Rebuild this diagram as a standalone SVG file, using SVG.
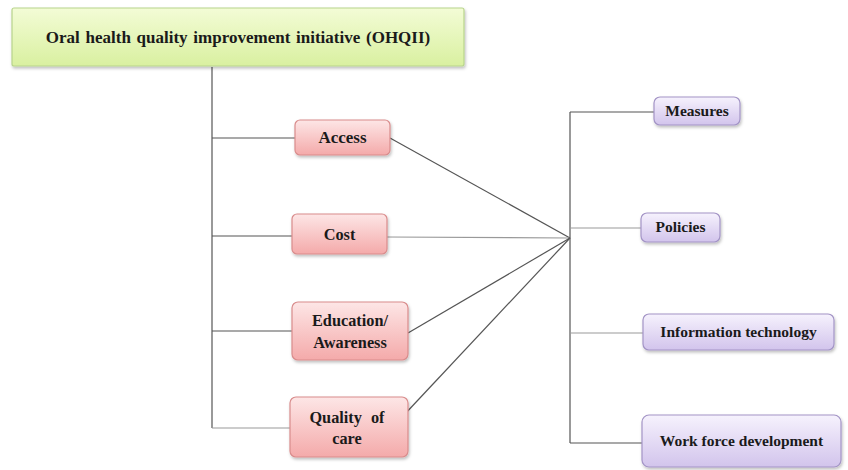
<svg xmlns="http://www.w3.org/2000/svg" width="848" height="470" viewBox="0 0 848 470">
<style>
text{font-family:"Liberation Serif","Times New Roman",serif;font-weight:bold;font-size:15.5px;fill:#1a1a1a;text-anchor:middle}
.c{stroke:#555;stroke-width:1.2;fill:none}
.cl{stroke:#999;stroke-width:1.2;fill:none}
.g{fill:url(#gg);stroke:#b8d48c;stroke-width:1.2}
.p{fill:url(#pg);stroke:#d98c8c;stroke-width:1.2}
.v{fill:url(#vg);stroke:#a394c6;stroke-width:1.2}
.big{font-size:17px}
.mid{font-size:16.3px}
</style>
<defs>
<linearGradient id="gg" x1="0" y1="0" x2="0" y2="1"><stop offset="0" stop-color="#f3fcd6"/><stop offset="1" stop-color="#d9f0a0"/></linearGradient>
<linearGradient id="pg" x1="0" y1="0" x2="0" y2="1"><stop offset="0" stop-color="#fde6e6"/><stop offset="1" stop-color="#f4aaaa"/></linearGradient>
<linearGradient id="vg" x1="0" y1="0" x2="0" y2="1"><stop offset="0" stop-color="#f6f2fd"/><stop offset="1" stop-color="#d2c4ec"/></linearGradient>
<filter id="sh" x="-10%" y="-10%" width="120%" height="140%"><feDropShadow dx="1" dy="2" stdDeviation="1.5" flood-color="#000" flood-opacity="0.25"/></filter>
</defs>
<g id="connectors">
<line class="c" x1="212" y1="67" x2="212" y2="428"/>
<line class="c" x1="212" y1="138" x2="295" y2="138"/>
<line class="c" x1="212" y1="236" x2="292" y2="236"/>
<line class="c" x1="212" y1="331" x2="292" y2="331"/>
<line class="cl" x1="212" y1="428" x2="290" y2="428"/>
<line class="c" x1="390" y1="138" x2="570" y2="238"/>
<line class="cl" x1="387" y1="237" x2="570" y2="238"/>
<line class="c" x1="408" y1="333" x2="570" y2="238"/>
<line class="c" x1="404" y1="415" x2="570" y2="238"/>
<line class="c" x1="570" y1="112" x2="570" y2="443"/>
<line class="c" x1="570" y1="112" x2="654" y2="112"/>
<line class="cl" x1="570" y1="228" x2="641" y2="228"/>
<line class="cl" x1="570" y1="333" x2="643" y2="333"/>
<line class="c" x1="570" y1="443" x2="642" y2="443"/>
</g>
<g id="ohqii"><rect class="g" x="12" y="8" width="452" height="58" rx="2" filter="url(#sh)"/><text class="big" x="238" y="43" word-spacing="1.5">Oral health quality improvement initiative (OHQII)</text></g>
<g id="access"><rect class="p" x="295" y="120" width="95" height="35" rx="5" filter="url(#sh)"/><text class="big" x="342.5" y="143">Access</text></g>
<g id="cost"><rect class="p" x="292" y="214" width="95" height="40" rx="5" filter="url(#sh)"/><text class="mid" x="339.5" y="240">Cost</text></g>
<g id="education"><rect class="p" x="292" y="302" width="116" height="58" rx="6" filter="url(#sh)"/><text class="mid" x="350" y="326">Education/</text><text class="mid" x="350" y="348">Awareness</text></g>
<g id="quality"><rect class="p" x="290" y="397" width="118" height="60" rx="6" filter="url(#sh)"/><text class="mid" x="347" y="423" word-spacing="5">Quality of</text><text class="mid" x="347" y="444">care</text></g>
<g id="measures"><rect class="v" x="654" y="97" width="86" height="28" rx="6" filter="url(#sh)"/><text x="697" y="116">Measures</text></g>
<g id="policies"><rect class="v" x="641" y="213" width="79" height="29" rx="6" filter="url(#sh)"/><text x="680.5" y="232">Policies</text></g>
<g id="infotech"><rect class="v" x="643" y="314" width="191" height="36" rx="6" filter="url(#sh)"/><text x="738.5" y="337">Information technology</text></g>
<g id="workforce"><rect class="v" x="642" y="415" width="199" height="52" rx="7" filter="url(#sh)"/><text x="741.5" y="446">Work force development</text></g>
</svg>
